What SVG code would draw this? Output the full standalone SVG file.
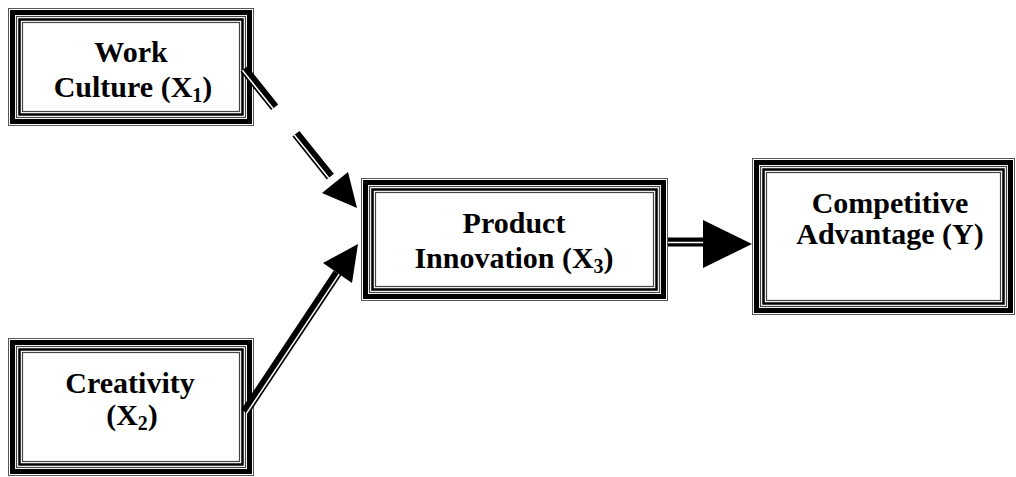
<svg xmlns="http://www.w3.org/2000/svg" width="1016" height="477" viewBox="0 0 1016 477">
<style>
.bg{fill:#fff}
.t0{fill:none;stroke:#555;stroke-width:1}
.t1{fill:none;stroke:#000;stroke-width:5}
.t2{fill:none;stroke:#444;stroke-width:1.2}
.t3{fill:none;stroke:#000;stroke-width:2.5}
.t4{fill:none;stroke:#444;stroke-width:1.2}
.lbl{font-family:"Liberation Serif","Times New Roman",serif;font-weight:bold;font-size:30px;fill:#000;text-anchor:middle}
.sub{font-size:20px}
.blk{stroke:#000;stroke-width:9;fill:none;stroke-linecap:butt}
.wht{stroke:#fff;stroke-width:1.5;fill:none;stroke-linecap:butt}
.head{fill:#000}
</style>
<rect x="0" y="0" width="1016" height="477" fill="#fff"/>

<g id="node-x1">
<rect class="bg" x="8" y="8" width="246" height="118"/>
<rect class="t0" x="8.5" y="8.5" width="245" height="117"/>
<rect class="t1" x="12.5" y="12.5" width="237" height="109"/>
<rect class="t2" x="16.5" y="16.5" width="229" height="101"/>
<rect class="t3" x="19.5" y="19.5" width="223" height="95"/>
<rect class="t4" x="22.5" y="22.5" width="217" height="89"/>
<text class="lbl" x="131" y="62">Work</text>
<text class="lbl" x="133" y="97">Culture (X<tspan class="sub" dy="5">1</tspan><tspan dy="-5">)</tspan></text>
</g>

<g id="node-x2">
<rect class="bg" x="8" y="338" width="246" height="138"/>
<rect class="t0" x="8.5" y="338.5" width="245" height="137"/>
<rect class="t1" x="12.5" y="342.5" width="237" height="129"/>
<rect class="t2" x="16.5" y="346.5" width="229" height="121"/>
<rect class="t3" x="19.5" y="349.5" width="223" height="115"/>
<rect class="t4" x="22.5" y="352.5" width="217" height="109"/>
<text class="lbl" x="130" y="393">Creativity</text>
<text class="lbl" x="132" y="425">(X<tspan class="sub" dy="5">2</tspan><tspan dy="-5">)</tspan></text>
</g>

<g id="node-x3">
<rect class="bg" x="361" y="178" width="307" height="123"/>
<rect class="t0" x="361.5" y="178.5" width="306" height="122"/>
<rect class="t1" x="365.5" y="182.5" width="298" height="114"/>
<rect class="t2" x="369.5" y="186.5" width="290" height="106"/>
<rect class="t3" x="372.5" y="189.5" width="284" height="100"/>
<rect class="t4" x="375.5" y="192.5" width="278" height="94"/>
<text class="lbl" x="514" y="233">Product</text>
<text class="lbl" x="514" y="268">Innovation (X<tspan class="sub" dy="5">3</tspan><tspan dy="-5">)</tspan></text>
</g>

<g id="node-y">
<rect class="bg" x="752" y="158" width="263" height="157"/>
<rect class="t0" x="752.5" y="158.5" width="262" height="156"/>
<rect class="t1" x="756.5" y="162.5" width="254" height="148"/>
<rect class="t2" x="760.5" y="166.5" width="246" height="140"/>
<rect class="t3" x="763.5" y="169.5" width="240" height="134"/>
<rect class="t4" x="766.5" y="172.5" width="234" height="128"/>
<text class="lbl" x="890" y="213">Competitive</text>
<text class="lbl" x="890" y="244">Advantage (Y)</text>
</g>

<g id="connectors">
<!-- X1 -> X3 dashed double -->
<line class="blk" x1="244" y1="69" x2="335" y2="182.5" stroke-dasharray="49 34 55 30"/>
<line class="wht" x1="242.4" y1="70.3" x2="333.4" y2="183.8" stroke-dasharray="49 34 55 30"/>
<polygon class="head" points="322,193 348,172 357,208"/>
<!-- X2 -> X3 solid double -->
<line class="blk" x1="245" y1="412" x2="337.5" y2="273"/>
<line class="wht" x1="246.7" y1="413.1" x2="339.2" y2="274.1"/>
<polygon class="head" points="323,263 352,283 358,244"/>
<!-- X3 -> Y -->
<line class="blk" x1="668" y1="242" x2="704" y2="242"/>
<line class="wht" x1="668" y1="242.5" x2="704" y2="242.5"/>
<polygon class="head" points="703,220 703,268 752,244"/>
</g>
</svg>
